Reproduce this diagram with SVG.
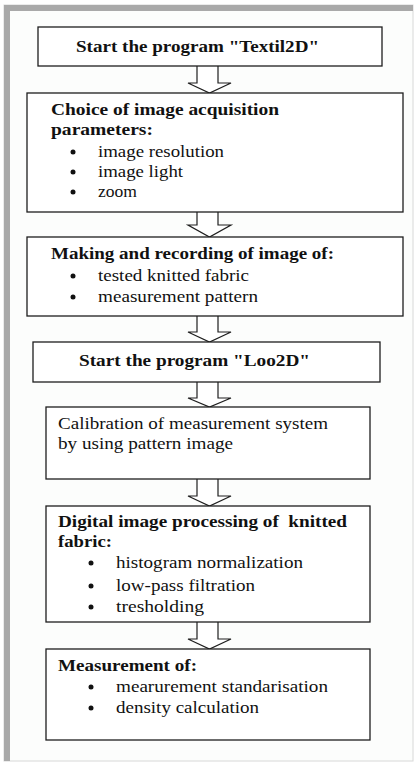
<svg xmlns="http://www.w3.org/2000/svg" width="415" height="762" viewBox="0 0 415 762">
<style>
.box{fill:#ffffff;stroke:#1e1e1e;stroke-width:1.3}
.arr{fill:#ffffff;stroke:#1e1e1e;stroke-width:1.2;stroke-linejoin:miter}
text{font-family:"Liberation Serif","Times New Roman",serif;font-size:17px;fill:#111111}
.b{font-weight:bold}
.dot{fill:#111111}
</style>
<rect x="0" y="0" width="415" height="762" fill="#ffffff"/>
<rect x="4" y="5" width="409" height="756" fill="#fcfdfc" stroke="#d8d8d8" stroke-width="1"/>
<rect x="4" y="5" width="6" height="756" fill="#a9a9a9"/>
<rect x="4" y="5" width="409" height="6" fill="#a9a9a9"/>

<g id="connectors">
<path class="arr" d="M197,66 V83 H188 L209.5,93 L231,83 H218 V66"/>
<path class="arr" d="M197,212 V225 H188 L209.5,237 L231,225 H218 V212"/>
<path class="arr" d="M197,316 V332 H188 L209.5,342 L231,332 H218 V316"/>
<path class="arr" d="M197,382 V398 H188 L209.5,407 L231,398 H218 V382"/>
<path class="arr" d="M197,479 V496 H188 L209.5,506 L231,496 H218 V479"/>
<path class="arr" d="M197,622 V639 H188 L209.5,649 L231,639 H218 V622"/>
</g>

<g id="n1">
<rect class="box" x="38" y="27" width="344" height="39"/>
<text class="b" x="76" y="52" textLength="243" lengthAdjust="spacingAndGlyphs">Start the program "Textil2D"</text>
</g>

<g id="n2">
<rect class="box" x="27" y="93" width="376" height="119"/>
<text class="b" x="51" y="115" textLength="228" lengthAdjust="spacingAndGlyphs">Choice of image acquisition</text>
<text class="b" x="51" y="135" textLength="102" lengthAdjust="spacingAndGlyphs">parameters:</text>
<circle class="dot" cx="73" cy="152" r="2.5"/>
<text x="98" y="157" textLength="126" lengthAdjust="spacingAndGlyphs">image resolution</text>
<circle class="dot" cx="73" cy="172" r="2.5"/>
<text x="98" y="177" textLength="85" lengthAdjust="spacingAndGlyphs">image light</text>
<circle class="dot" cx="73" cy="192" r="2.5"/>
<text x="98" y="197" textLength="39" lengthAdjust="spacingAndGlyphs">zoom</text>
</g>

<g id="n3">
<rect class="box" x="27" y="237" width="376" height="79"/>
<text class="b" x="51" y="259" textLength="283" lengthAdjust="spacingAndGlyphs">Making and recording of image of:</text>
<circle class="dot" cx="73" cy="276" r="2.5"/>
<text x="98" y="281" textLength="151" lengthAdjust="spacingAndGlyphs">tested knitted fabric</text>
<circle class="dot" cx="73" cy="297" r="2.5"/>
<text x="98" y="302" textLength="160" lengthAdjust="spacingAndGlyphs">measurement pattern</text>
</g>

<g id="n4">
<rect class="box" x="33" y="342" width="347" height="40"/>
<text class="b" x="79" y="366" textLength="231" lengthAdjust="spacingAndGlyphs">Start the program "Loo2D"</text>
</g>

<g id="n5">
<rect class="box" x="46" y="407" width="324" height="72"/>
<text x="58" y="429" textLength="270" lengthAdjust="spacingAndGlyphs">Calibration of measurement system</text>
<text x="58" y="449" textLength="175" lengthAdjust="spacingAndGlyphs">by using pattern image</text>
</g>

<g id="n6">
<rect class="box" x="46" y="506" width="324" height="116"/>
<text class="b" x="58" y="527" textLength="289" lengthAdjust="spacingAndGlyphs" style="white-space:pre">Digital image processing of  knitted</text>
<text class="b" x="58" y="547" textLength="54" lengthAdjust="spacingAndGlyphs">fabric:</text>
<circle class="dot" cx="91" cy="563" r="2.5"/>
<text x="116" y="568" textLength="187" lengthAdjust="spacingAndGlyphs">histogram normalization</text>
<circle class="dot" cx="91" cy="586" r="2.5"/>
<text x="116" y="591" textLength="139" lengthAdjust="spacingAndGlyphs">low-pass filtration</text>
<circle class="dot" cx="91" cy="607" r="2.5"/>
<text x="116" y="612" textLength="88" lengthAdjust="spacingAndGlyphs">tresholding</text>
</g>

<g id="n7">
<rect class="box" x="46" y="649" width="324" height="91"/>
<text class="b" x="58" y="671" textLength="139" lengthAdjust="spacingAndGlyphs">Measurement of:</text>
<circle class="dot" cx="91" cy="687" r="2.5"/>
<text x="116" y="692" textLength="212" lengthAdjust="spacingAndGlyphs">mearurement standarisation</text>
<circle class="dot" cx="91" cy="708" r="2.5"/>
<text x="116" y="713" textLength="143" lengthAdjust="spacingAndGlyphs">density calculation</text>
</g>
</svg>
